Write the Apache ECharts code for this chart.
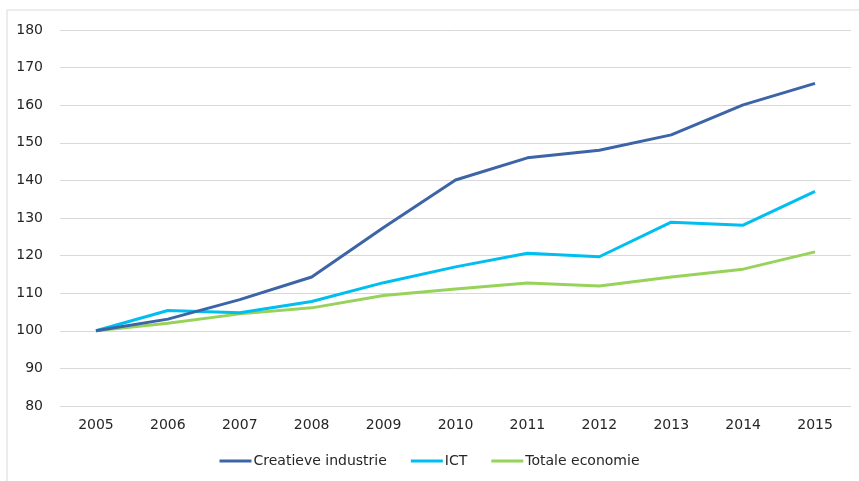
<!DOCTYPE html>
<html>
<head>
<meta charset="utf-8">
<script src="https://cdn.jsdelivr.net/npm/echarts@6/dist/echarts.min.js"></script>
<style>
html,body{margin:0;padding:0;background:#fff;}
#c{width:859px;height:481px;}
</style>
</head>
<body>
<div id="c"></div>
<script>
var years = ['2005','2006','2007','2008','2009','2010','2011','2012','2013','2014','2015'];
var creatieve = [100, 103.1, 108.3, 114.3, 127.5, 140.1, 146.0, 148.0, 152.1, 160.1, 165.8];
var ict = [100, 105.4, 104.8, 107.8, 112.8, 117.0, 120.6, 119.7, 128.9, 128.1, 137.1];
var totale = [100, 102.0, 104.5, 106.1, 109.4, 111.1, 112.7, 111.9, 114.3, 116.4, 121.0];
var seriesNames = ['Creatieve industrie', 'ICT', 'Totale economie'];

var chart = echarts.init(document.getElementById('c'));
var font = '"DejaVu Sans", sans-serif';
chart.setOption({
  animation: false,
  graphic: [{
    type: 'rect',
    shape: {x: 7, y: 10, width: 860, height: 480},
    style: {fill: 'none', stroke: '#d9d9d9', lineWidth: 1},
    silent: true
  }],
  grid: {left: 60, right: 8, top: 30, bottom: 75, containLabel: false},
  legend: {
    bottom: 8,
    left: 'center',
    itemWidth: 32,
    itemHeight: 3,
    itemGap: 24,
    icon: 'rect',
    textStyle: {fontFamily: font, fontSize: 14, color: '#262626', padding: [0,0,0,-3]},
    data: seriesNames
  },
  xAxis: {
    type: 'category',
    data: years,
    boundaryGap: true,
    axisLine: {show: false},
    axisTick: {show: false},
    axisLabel: {fontFamily: font, fontSize: 14, color: '#262626', margin: 12}
  },
  yAxis: {
    type: 'value',
    min: 80,
    max: 180,
    interval: 10,
    axisLine: {show: false},
    axisTick: {show: false},
    axisLabel: {fontFamily: font, fontSize: 14, color: '#262626', margin: 17},
    splitLine: {lineStyle: {color: '#d9d9d9', width: 1}}
  },
  series: [
    {name: seriesNames[0], type: 'line', data: creatieve, symbol: 'none', lineStyle: {width: 3, color: '#3C64A6'}, itemStyle: {color: '#3C64A6'}, z: 3},
    {name: seriesNames[1], type: 'line', data: ict, symbol: 'none', lineStyle: {width: 3, color: '#00BEF0'}, itemStyle: {color: '#00BEF0'}, z: 2},
    {name: seriesNames[2], type: 'line', data: totale, symbol: 'none', lineStyle: {width: 3, color: '#97D35A'}, itemStyle: {color: '#97D35A'}, z: 1}
  ]
});
</script>
</body>
</html>
